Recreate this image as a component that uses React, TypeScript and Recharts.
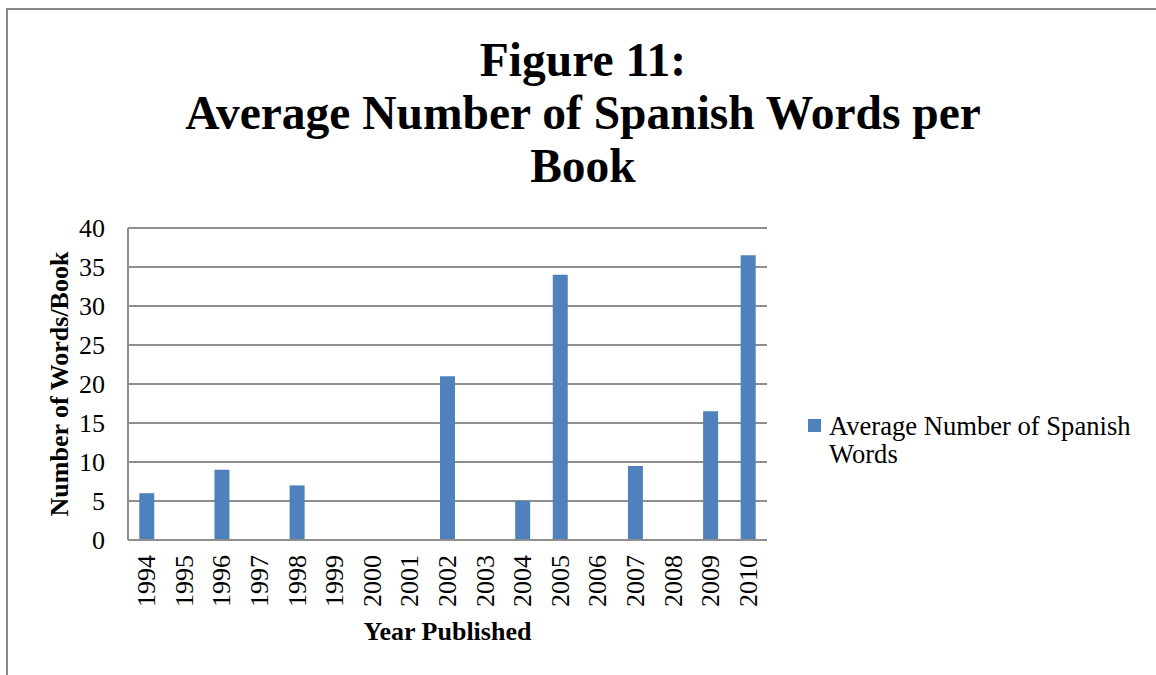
import React from 'react';
import { BarChart, Bar, XAxis, YAxis, CartesianGrid, Legend, Label } from 'recharts';

// Publication years on the category axis
const years = [
  '1994', '1995', '1996', '1997', '1998', '1999', '2000', '2001', '2002',
  '2003', '2004', '2005', '2006', '2007', '2008', '2009', '2010',
];

// Average number of Spanish words per book (null = no books that year)
const avgSpanishWords: (number | null)[] = [
  6, null, 9, null, 7, null, null, null, 21,
  null, 5, 34, null, 9.5, null, 16.5, 36.5,
];

const yTicks = [0, 5, 10, 15, 20, 25, 30, 35, 40];

const titleLines = ['Figure 11:', 'Average Number of Spanish Words per', 'Book'];
const seriesName = 'Average Number of Spanish Words';
const xAxisTitle = 'Year Published';
const yAxisTitle = 'Number of Words/Book';

const data = years.map((year, i) => ({ year, words: avgSpanishWords[i] }));

const FONT = '"Liberation Serif", "Times New Roman", serif';
const BAR_COLOR = '#4F81BD';
const GRID_COLOR = '#8e8e8e';

const YearTick = (props: any) => {
  const { x, y, payload } = props;
  return (
    <text
      x={x}
      y={y}
      transform={`rotate(-90, ${x}, ${y})`}
      textAnchor="end"
      dominantBaseline="central"
      fontFamily={FONT}
      fontSize={26}
      fill="#000"
    >
      {payload.value}
    </text>
  );
};

const LegendContent = (props: any) => {
  const item = props.payload && props.payload[0];
  return (
    <div style={{ display: 'flex', alignItems: 'flex-start', fontFamily: FONT }}>
      <div
        style={{
          width: 13,
          height: 13,
          marginTop: 7,
          marginLeft: 2,
          marginRight: 8,
          background: item ? item.color : BAR_COLOR,
          flex: 'none',
        }}
      />
      <div style={{ fontSize: 26.6, lineHeight: '28px', color: '#000', width: 322 }}>
        {item ? item.value : seriesName}
      </div>
    </div>
  );
};

export default function App() {
  return (
    <div
      style={{
        position: 'fixed',
        left: 0,
        top: 0,
        width: 1156,
        height: 675,
        overflow: 'hidden',
        background: '#fff',
      }}
    >
      {/* outer chart frame */}
      <div
        style={{
          position: 'absolute',
          left: 6,
          top: 8,
          width: 1300,
          height: 900,
          border: '2px solid #8a8a8a',
        }}
      />
      <div style={{ position: 'absolute', left: 0, top: 0 }}>
        <BarChart
          width={1156}
          height={675}
          data={data}
          margin={{ top: 228, right: 389, bottom: 35, left: 48 }}
          barCategoryGap="30%"
        >
          <CartesianGrid
            horizontal
            vertical={false}
            stroke={GRID_COLOR}
            strokeWidth={2}
          />
          <XAxis
            dataKey="year"
            interval={0}
            height={100}
            tickSize={0}
            tickMargin={15}
            tickLine={false}
            axisLine={{ stroke: GRID_COLOR, strokeWidth: 2 }}
            tick={<YearTick />}
          >
            <Label
              content={(p: any) => {
                const vb = p.viewBox;
                return (
                  <text
                    x={vb.x + vb.width / 2}
                    y={vb.y + vb.height}
                    textAnchor="middle"
                    fontFamily={FONT}
                    fontWeight="bold"
                    fontSize={26}
                    fill="#000"
                  >
                    {xAxisTitle}
                  </text>
                );
              }}
            />
          </XAxis>
          <YAxis
            width={80}
            domain={[0, 40]}
            ticks={yTicks}
            interval={0}
            tickSize={0}
            tickMargin={23}
            tickLine={false}
            axisLine={{ stroke: GRID_COLOR, strokeWidth: 2 }}
            tick={{ fontFamily: FONT, fontSize: 26, fill: '#000' }}
          >
            <Label
              content={(p: any) => {
                const vb = p.viewBox;
                const cx = vb.x + 20;
                const cy = vb.y + vb.height / 2;
                return (
                  <text
                    x={cx}
                    y={cy}
                    transform={`rotate(-90, ${cx}, ${cy})`}
                    textAnchor="middle"
                    fontFamily={FONT}
                    fontWeight="bold"
                    fontSize={26}
                    fill="#000"
                  >
                    {yAxisTitle}
                  </text>
                );
              }}
            />
          </YAxis>
          <Legend
            layout="horizontal"
            verticalAlign="middle"
            align="center"
            content={<LegendContent />}
            wrapperStyle={{ position: 'absolute', left: 806, top: 412, width: 345 }}
          />
          <Bar
            dataKey="words"
            name={seriesName}
            fill={BAR_COLOR}
            isAnimationActive={false}
          />
        </BarChart>
      </div>
      {/* chart title */}
      <div
        style={{
          position: 'absolute',
          left: 0,
          top: 34,
          width: 1166,
          textAlign: 'center',
          fontFamily: FONT,
          fontWeight: 'bold',
          fontSize: 47.5,
          lineHeight: '53px',
          color: '#000',
        }}
      >
        {titleLines.map((line) => (
          <div key={line}>{line}</div>
        ))}
      </div>
    </div>
  );
}
